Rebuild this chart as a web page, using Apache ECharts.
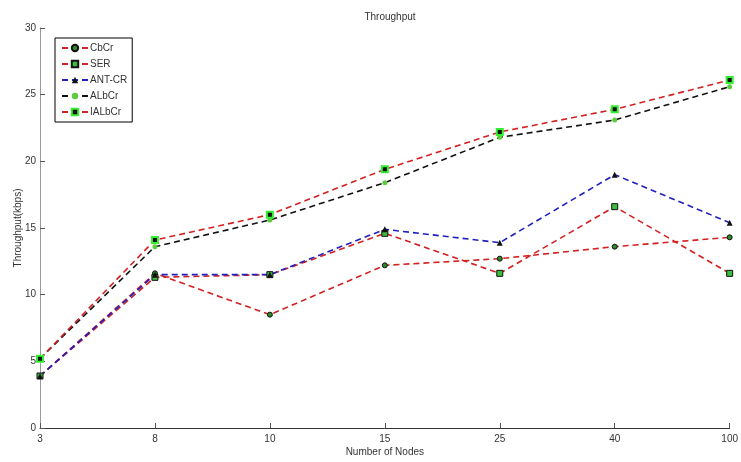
<!DOCTYPE html>
<html>
<head>
<meta charset="utf-8">
<script src="https://cdn.jsdelivr.net/npm/echarts@6/dist/echarts.min.js"></script>
<style>
  html, body { margin: 0; padding: 0; background: #fff; }
  #chart { width: 741px; height: 462px; }
</style>
</head>
<body>
<div id="chart"></div>
<script>
// 节点数（x 轴类目）
const nodes = ['3', '8', '10', '15', '25', '40', '100']

// 各算法吞吐量
const cbcr = [3.9, 11.6, 8.5, 12.2, 12.7, 13.6, 14.3]
const ser = [3.9, 11.3, 11.5, 14.6, 11.6, 16.6, 11.6]
const antCr = [3.9, 11.5, 11.5, 14.9, 13.9, 19.0, 15.4]
const albcr = [5.2, 13.6, 15.6, 18.4, 21.8, 23.1, 25.6]
const ialbcr = [5.2, 14.1, 16.0, 19.4, 22.2, 23.9, 26.1]

const FONT = 'Liberation Sans'
const TXT = '#333'

function mkSeries (name, data, lineColor, symbol, size, fill, border, bw) {
  return {
    name: name,
    type: 'line',
    data: data,
    symbol: symbol,
    symbolSize: size,
    lineStyle: { color: lineColor, width: 1.6, type: [6, 4] },
    itemStyle: { color: fill, borderColor: border, borderWidth: bw },
    emphasis: { disabled: true }
  }
}

let myChart = echarts.init(document.getElementById('chart'))
let option = {
  animation: false,
  backgroundColor: '#fff',
  textStyle: { fontFamily: FONT },
  title: {
    text: 'Throughput',
    left: 385,
    top: 7,
    textAlign: 'center',
    textStyle: { fontSize: 10, fontWeight: 'normal', color: TXT, fontFamily: FONT }
  },
  legend: {
    orient: 'vertical',
    left: 55,
    top: 38,
    padding: [5, 5, 5, 6],
    itemGap: 6,
    itemWidth: 26,
    itemHeight: 8,
    borderColor: '#000',
    borderWidth: 1,
    backgroundColor: '#fff',
    textStyle: { fontSize: 10, color: TXT, fontFamily: FONT, padding: [0, 0, 0, -3] },
    data: ['CbCr', 'SER', 'ANT-CR', 'ALbCr', 'IALbCr']
  },
  grid: { left: 40, right: 7, top: 28, bottom: 34, containLabel: false },
  xAxis: {
    type: 'category',
    data: nodes,
    boundaryGap: false,
    name: 'Number of Nodes',
    nameLocation: 'middle',
    nameGap: 19,
    nameMoveOverlap: false,
    nameTextStyle: { fontSize: 10, color: TXT, fontFamily: FONT },
    axisLine: { lineStyle: { color: '#333', width: 1 } },
    axisTick: { inside: true, length: 5, alignWithLabel: true, lineStyle: { color: '#555' } },
    axisLabel: { fontSize: 10, color: TXT, margin: 6 },
    splitLine: { show: false }
  },
  yAxis: {
    type: 'value',
    min: 0,
    max: 30,
    interval: 5,
    name: 'Throughput(kbps)',
    nameLocation: 'middle',
    nameGap: 17,
    nameMoveOverlap: false,
    nameTextStyle: { fontSize: 10, color: TXT, fontFamily: FONT },
    axisLine: { show: true, lineStyle: { color: '#999', width: 1 } },
    axisTick: { show: true, inside: true, length: 5, lineStyle: { color: '#555' } },
    axisLabel: { fontSize: 10, color: TXT, margin: 4 },
    splitLine: { show: false }
  },
  series: [
    mkSeries('CbCr', cbcr, '#d42020', 'circle', 5, '#2a8a2a', '#111', 1),
    mkSeries('SER', ser, '#d42020', 'rect', 6, '#3dbd3d', '#111', 1),
    mkSeries('ANT-CR', antCr, '#2020c0', 'triangle', 6, '#111', '#111', 0),
    mkSeries('ALbCr', albcr, '#111', 'circle', 5, '#5ccc3c', '#5ccc3c', 0),
    mkSeries('IALbCr', ialbcr, '#d42020', 'rect', 6, '#111', '#33ee33', 2)
  ]
}
myChart.setOption(option)
</script>
</body>
</html>
